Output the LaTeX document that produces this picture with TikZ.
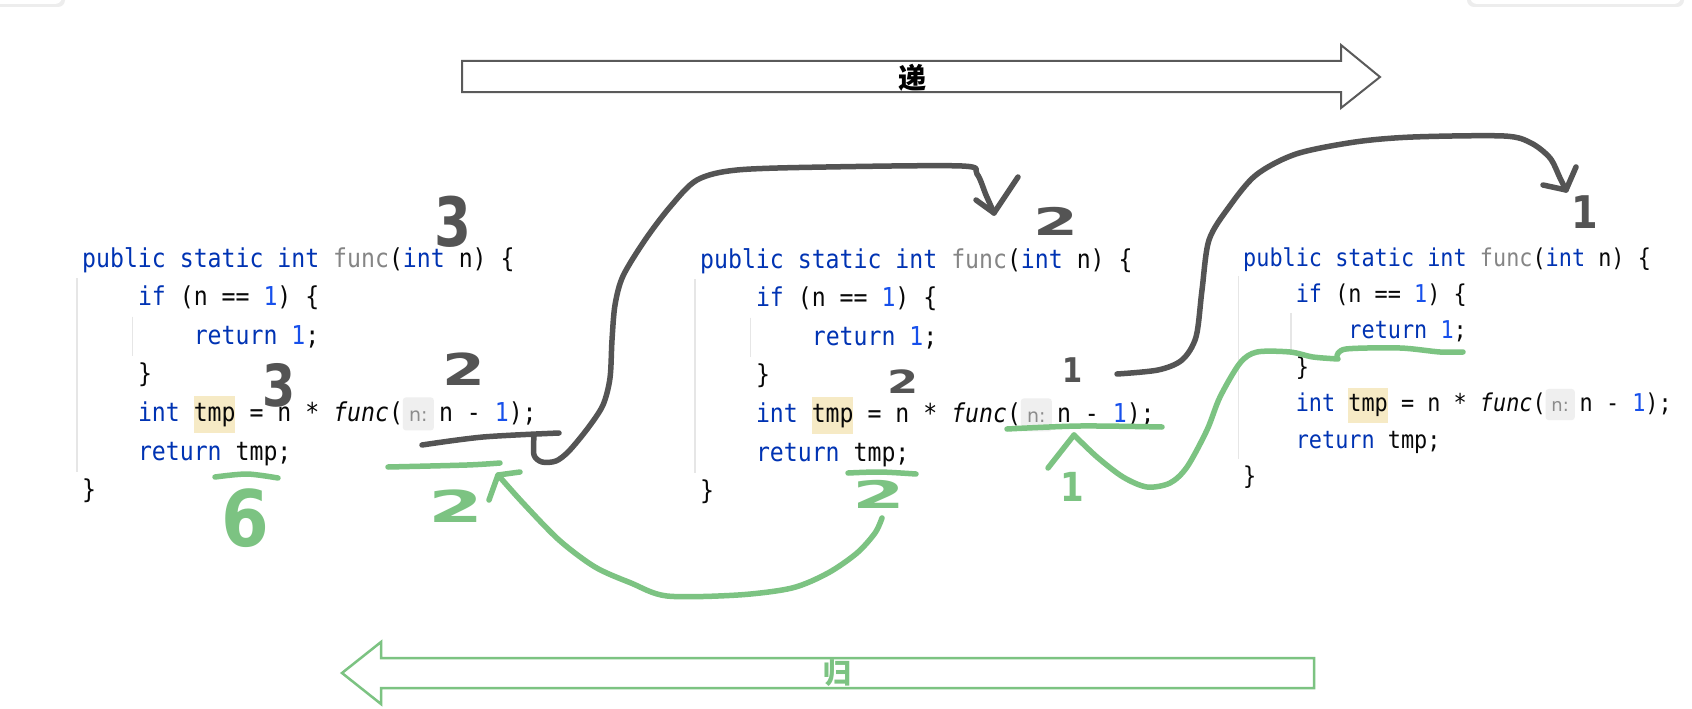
\documentclass[tikz,border=0pt]{standalone}
\usepackage{fontspec}
\usepackage{graphicx}
\newfontfamily\codefont[FakeStretch=0.891]{DejaVu Sans Mono}
\newfontfamily\hintfont{DejaVu Sans}
\newfontfamily\handfont{DejaVu Sans}
\newfontfamily\cjk{Noto Sans CJK SC}
\definecolor{kwc}{HTML}{0033B3}
\definecolor{numc}{HTML}{1750EB}
\definecolor{declc}{HTML}{858585}
\definecolor{txtc}{HTML}{080808}
\definecolor{hintc}{HTML}{8C8C8C}
\definecolor{hintbg}{HTML}{EFEFEF}
\definecolor{tmpbg}{HTML}{F6EAC5}
\definecolor{guidec}{HTML}{E6E6E6}
\definecolor{dkc}{HTML}{545454}
\definecolor{grc}{HTML}{7CC382}
\definecolor{arrc}{HTML}{5A5A5A}
\newcommand\kw[1]{\textcolor{kwc}{#1}}
\newcommand\nm[1]{\textcolor{numc}{#1}}
\newcommand\dc[1]{\textcolor{declc}{#1}}
\newcommand\codeblk[4]{%
  \pgfmathsetmacro\cw{13.95*#4}%
  \pgfmathsetmacro\ls{38.6*#4}%
  \pgfmathsetmacro\fs{26*#4}%
  \pgfmathsetmacro\hfs{19*#4}%
  \draw[guide] ({#2-5*#4},{#3+11*#4}) -- ({#2-5*#4},{#3+5*\ls+12*#4});
  \draw[guide] ({#2+4*\cw-5*#4},{#3+\ls+11*#4}) -- ({#2+4*\cw-5*#4},{#3+2*\ls+12*#4});
  \fill[tmpbg] ({#2+8*\cw},{#3+4*\ls-25*#4}) rectangle ({#2+11*\cw},{#3+4*\ls+12*#4});
  \fill[hintbg, rounded corners=3] ({#2+23*\cw},{#3+4*\ls-24*#4}) rectangle ({#2+23*\cw+31*#4},{#3+4*\ls+9*#4});
  \node[anchor=base, inner sep=0, text=hintc, font=\hintfont\fontsize{\hfs}{\hfs}\selectfont] (#1hint) at ({#2+23*\cw+15.5*#4},{#3+4*\ls}) {n:};
  \begin{scope}[every node/.append style={font=\codefont\fontsize{\fs}{\fs}\selectfont}]
  \node[cl] (#1l1) at (#2,#3) {\kw{public static int} \dc{func}(\kw{int} n) \{};
  \node[cl] (#1l2) at ({#2+4*\cw},{#3+\ls}) {\kw{if} (n == \nm{1}) \{};
  \node[cl] (#1l3) at ({#2+8*\cw},{#3+2*\ls}) {\kw{return} \nm{1};};
  \node[cl] (#1l4) at ({#2+4*\cw},{#3+3*\ls}) {\}};
  \node[cl] (#1l5) at ({#2+4*\cw},{#3+4*\ls}) {\kw{int} tmp = n * \textit{func}(};
  \node[cl] (#1l5b) at ({#2+23*\cw+36*#4},{#3+4*\ls}) {n - \nm{1});};
  \node[cl] (#1l6) at ({#2+4*\cw},{#3+5*\ls}) {\kw{return} tmp;};
  \node[cl] (#1l7) at ({#2},{#3+6*\ls}) {\}};
  \end{scope}
}
\begin{document}
\begin{tikzpicture}[x=1pt,y=-1pt,
  cl/.style={anchor=base west, inner sep=0, text=txtc},
  guide/.style={draw=guidec, line width=1.2pt},
  dk/.style={draw=dkc, line width=5.5pt, line cap=round, line join=round},
  gr/.style={draw=grc, line width=5.5pt, line cap=round, line join=round},
  hd/.style={inner sep=0, font=\handfont\bfseries},
  bigarrow/.style={line width=2pt, line join=miter},
]
\useasboundingbox (0,0) rectangle (1692,709);
\fill[white] (0,0) rectangle (1692,709);
% faint UI cards at the top
\fill[black!7, rounded corners=7] (-12,-25) rectangle (65,7);
\fill[white, rounded corners=7] (-12,-25) rectangle (62,4);
\fill[black!7, rounded corners=7] (1467,-25) rectangle (1684,7);
\fill[white, rounded corners=7] (1470,-25) rectangle (1681,4);

% big arrows
\draw[bigarrow, draw=arrc] (462,61) -- (1341,61) -- (1341,45) -- (1380,77) -- (1341,108) -- (1341,92) -- (462,92) -- cycle;
\node[font=\cjk\bfseries\fontsize{28}{28}\selectfont, text=black, inner sep=0] (di) at (912,78) {递};
\draw[bigarrow, draw=grc, line width=2.5pt] (1314,658) -- (381,658) -- (381,642) -- (342,673) -- (381,704) -- (381,688) -- (1314,688) -- cycle;
\node[font=\cjk\bfseries\fontsize{28}{28}\selectfont, text=grc, inner sep=0] (gui) at (837,673) {归};

% code blocks
\codeblk{a}{82}{267}{1}
\codeblk{b}{700}{268}{1}
\codeblk{c}{1243}{266}{0.943}

% green underlines
\draw[gr] plot[smooth] coordinates {(215,477) (247,474) (278,478)};
\draw[gr] plot[smooth] coordinates {(388,467) (467,465) (500,463)};
\draw[gr] plot[smooth] coordinates {(848,473) (880,472) (916,474)};
\draw[gr] plot[smooth] coordinates {(1007,429) (1080,426) (1162,427)};
\draw[gr] plot[smooth] coordinates {(1337,356) (1346,349) (1400,348) (1440,352) (1463,352)};

% dark underline
\draw[dk] plot[smooth] coordinates {(422,445) (483,437) (559,433)};

% dark connector 1 (block 1 -> block 2)
\coordinate (d1s) at (534,436);
\coordinate (d1e) at (994,213);
\draw[dk] plot[smooth, tension=0.5] coordinates {(d1s) (534,455) (542,462) (556,461) (569,451) (588,428) (603,405) (610,378) (612,340) (615,305) (623,276) (645,240) (670,207) (697,180) (737,170) (826,167) (962,166) (977,174) (986,195) (d1e)};
\draw[dk] (976,200) -- (d1e) -- (1018,177);

% dark connector 2 (block 2 -> block 3)
\coordinate (d2s) at (1117,374);
\coordinate (d2e) at (1566,190);
\draw[dk] plot[smooth, tension=0.5] coordinates {(d2s) (1158,370) (1182,360) (1196,337) (1202,290) (1209,240) (1229,207) (1256,175) (1296,154) (1355,142) (1413,137) (1504,136) (1531,143) (1550,158) (1560,178) (d2e)};
\draw[dk] (1543,185) -- (d2e) -- (1576,167);

% green connector A (block 2 -> block 1)
\coordinate (g1s) at (882,518);
\coordinate (g1e) at (498,475);
\draw[gr] plot[smooth, tension=0.5] coordinates {(g1s) (875,533) (857,553) (828,573) (792,588) (738,595) (667,596) (631,583) (595,567) (559,540) (523,503) (g1e)};
\draw[gr] (489,500) -- (g1e) -- (520,472);

% green connector B (block 3 -> block 2)
\coordinate (g2s) at (1338,359);
\coordinate (g2e) at (1074,435);
\draw[gr] plot[smooth, tension=0.5] coordinates {(g2s) (1313,357) (1290,352) (1257,352) (1240,363) (1220,397) (1207,430) (1187,467) (1170,483) (1147,487) (1123,477) (1097,457) (g2e)};
\draw[gr] (1048,468) -- (g2e);

% handwritten numbers
\node[hd, text=dkc] (n3a) at (453,222) {\fontsize{68}{68}\selectfont\scalebox{0.78}[1]{3}};
\node[hd, text=dkc] (n3b) at (279,385) {\fontsize{58}{58}\selectfont\scalebox{0.82}[1]{3}};
\node[hd, text=dkc] (n2a) at (464,369) {\fontsize{44}{44}\selectfont\scalebox{1.4}[1]{2}};
\node[hd, text=dkc] (n2b) at (1056,221) {\fontsize{38}{38}\selectfont\scalebox{1.7}[1]{2}};
\node[hd, text=dkc] (n2c) at (903,382) {\fontsize{32}{32}\selectfont\scalebox{1.4}[1]{2}};
\node[hd, text=dkc] (n1a) at (1073,370) {\fontsize{34}{34}\selectfont\scalebox{0.85}[1]{1}};
\node[hd, text=dkc] (n1b) at (1585,212) {\fontsize{45}{45}\selectfont\scalebox{0.85}[1]{1}};
\node[hd, text=grc] (g6) at (245,518) {\fontsize{78}{78}\selectfont\scalebox{0.88}[1]{6}};
\node[hd, text=grc] (g2a) at (456,506) {\fontsize{44}{44}\selectfont\scalebox{1.8}[1]{2}};
\node[hd, text=grc] (g2b) at (879,494) {\fontsize{38}{38}\selectfont\scalebox{2.0}[1]{2}};
\node[hd, text=grc] (g1) at (1072,487) {\fontsize{40}{40}\selectfont\scalebox{0.85}[1]{1}};
\end{tikzpicture}
\end{document}
